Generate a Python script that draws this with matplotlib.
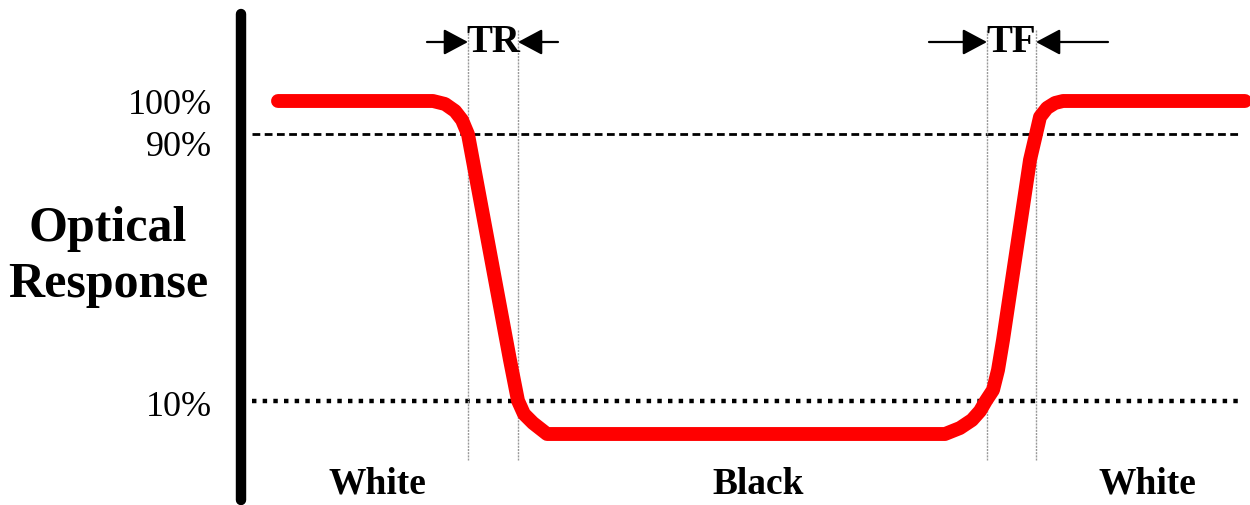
import matplotlib
matplotlib.use("Agg")
import matplotlib.pyplot as plt

# red response curve: time (arbitrary units) vs optical response (%)
curve_t = [3.8, 19.3, 20.5, 21.5, 22.2, 22.8, 27.0, 27.8, 28.4, 29.3, 30.7,
           70.5, 72.0, 73.2, 74.0, 74.6, 75.3, 75.8, 76.3, 79.0, 79.6,
           80.0, 80.7, 81.5, 82.3, 100.5]
curve_pct = [100, 100, 99.1, 97.0, 94.3, 90, 22.2, 10, 6.0, 3.3, 0,
             0, 1.8, 4.2, 6.9, 10, 13.2, 19.2, 28.2, 82.3, 90,
             95.2, 97.9, 99.4, 100, 100]

levels = [90, 10]
level_names = ["90%", "10%"]
transition_t = [22.8, 27.8, 74.7, 79.6]   # TR start/end, TF start/end
region_names = ["White", "Black", "White"]
region_t = [13.7, 51.8, 90.7]

t_px = lambda px: (px - 240) / 10.0
p_px = lambda py: (434 - py) / 3.33

fig = plt.figure(figsize=(12.5, 5.05), dpi=100)
ax = fig.add_axes([0, 0, 1, 1])
ax.set_xlim(t_px(0), t_px(1250))
ax.set_ylim(p_px(505), p_px(0))
ax.axis("off")

serif = "Liberation Serif"

# thick black axis bar
ax.plot([0.1, 0.1], [p_px(14), p_px(500)], color="black", lw=7.5,
        solid_capstyle="round")

# reference levels
ax.plot([t_px(252), t_px(1242)], [levels[0]] * 2, color="black", lw=2.0,
        linestyle=(0, (2.8, 1.6)))
ax.plot([t_px(252), t_px(1242)], [levels[1]] * 2, color="black", lw=3.2,
        linestyle=(0, (1, 1.4)))

# thin transition markers
for t in transition_t:
    ax.plot([t, t], [p_px(30), p_px(460)], color="#999999", lw=1.0,
            linestyle=(0, (1.5, 0.8)))

ax.plot(curve_t, curve_pct, color="#ff0000", lw=10,
        solid_capstyle="round", solid_joinstyle="round")

# TR / TF arrows
arr_y = p_px(42)
style = dict(arrowstyle="-|>,head_length=15,head_width=8", color="black",
             lw=1.6, mutation_scale=1, shrinkA=0, shrinkB=0)
for x0, x1 in [(18.7, transition_t[0]), (31.8, transition_t[1]),
               (68.9, transition_t[2]), (86.8, transition_t[3])]:
    ax.annotate("", xy=(x1, arr_y), xytext=(x0, arr_y), arrowprops=style)
ax.text((transition_t[0] + transition_t[1]) / 2, arr_y, "TR", family=serif,
        fontsize=28, fontweight="bold", ha="center", va="center")
ax.text((transition_t[2] + transition_t[3]) / 2, arr_y, "TF", family=serif,
        fontsize=28, fontweight="bold", ha="center", va="center")

# level labels
ax.text(t_px(212), p_px(105), "100%", family=serif, fontsize=26,
        ha="right", va="center")
ax.text(t_px(212), p_px(147), level_names[0], family=serif, fontsize=26,
        ha="right", va="center")
ax.text(t_px(212), p_px(407), level_names[1], family=serif, fontsize=26,
        ha="right", va="center")

ax.text(t_px(108), p_px(257), "Optical\nResponse", family=serif, fontsize=36,
        fontweight="bold", ha="center", va="center", linespacing=1.3)

for t, name in zip(region_t, region_names):
    ax.text(t, p_px(484), name, family=serif, fontsize=27,
            fontweight="bold", ha="center", va="center")

fig.savefig("out.png", dpi=100)
